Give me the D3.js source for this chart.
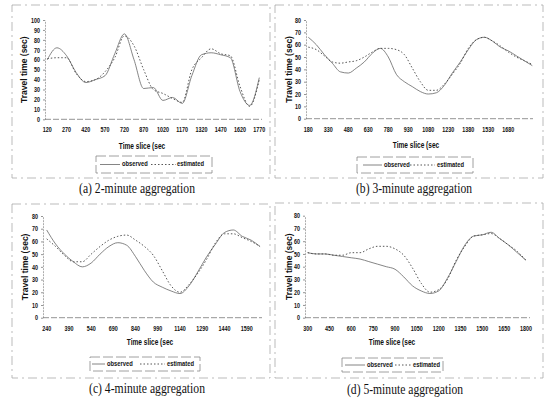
<!DOCTYPE html>
<html>
<head>
<meta charset="utf-8">
<script src="https://cdn.jsdelivr.net/npm/d3@7"></script>
<style>
    body { margin: 0; background: #fff; }
    svg text { font-family: "Liberation Sans", Arial, sans-serif; fill: #111; }
    svg text.caption { font-family: "Liberation Serif", "Times New Roman", serif; }
</style>
</head>
<body>
<svg id="fig" width="546" height="399"></svg>
<script>
// (a) 2-minute aggregation
const timesA = [120, 195, 270, 345, 420, 495, 570, 645, 720, 795, 870, 945, 1020, 1095, 1170, 1245, 1320, 1395, 1470, 1545, 1620, 1695, 1770];
const observedA = [60, 72, 64, 47, 37, 40, 44, 66, 86, 60, 31, 32, 19, 22, 16, 44, 65, 67, 65, 62, 28, 14, 42];
const estimatedA = [61, 62, 62, 46, 38, 40, 48, 62, 84, 74, 50, 30, 26, 21, 17, 50, 62, 71, 66, 64, 33, 13, 40];
const ticksA = [120, 270, 420, 570, 720, 870, 1020, 1170, 1320, 1470, 1620, 1770];

// (b) 3-minute aggregation
const timesB = [180, 240, 300, 360, 420, 480, 540, 600, 660, 720, 780, 840, 900, 960, 1020, 1080, 1140, 1200, 1260, 1320, 1380, 1440, 1500, 1560, 1620, 1680, 1740, 1800, 1860];
const observedB = [66, 60, 52, 45, 38, 37, 41, 46, 53, 57, 50, 36, 30, 26, 22, 20, 21, 27, 37, 46, 56, 64, 66, 63, 58, 55, 51, 47, 43];
const estimatedB = [58, 56, 51, 46, 45, 46, 47, 50, 54, 57, 57, 56, 52, 41, 30, 23, 23, 28, 36, 45, 57, 64, 66, 63, 59, 54, 50, 47, 44];
const ticksB = [180, 330, 480, 630, 780, 930, 1080, 1230, 1380, 1530, 1680];

// (c) 4-minute aggregation
const timesC = [240, 300, 360, 420, 480, 540, 600, 660, 720, 780, 840, 900, 960, 1020, 1080, 1140, 1200, 1260, 1320, 1380, 1440, 1500, 1560, 1620, 1680];
const observedC = [69, 58, 50, 44, 40, 43, 50, 56, 59, 57, 48, 37, 28, 24, 21, 19, 25, 36, 48, 58, 67, 69, 64, 61, 56];
const estimatedC = [62, 56, 49, 44, 44, 50, 56, 61, 64, 65, 61, 56, 49, 37, 25, 20, 26, 35, 46, 59, 66, 66, 63, 60, 56];
const ticksC = [240, 390, 540, 690, 840, 990, 1140, 1290, 1440, 1590];

// (d) 5-minute aggregation
const timesD = [300, 360, 420, 480, 540, 600, 660, 720, 780, 840, 900, 960, 1020, 1080, 1140, 1200, 1260, 1320, 1380, 1440, 1500, 1560, 1620, 1680, 1740, 1800];
const observedD = [51, 50, 50, 49, 48, 47, 46, 44, 42, 40, 38, 32, 25, 21, 19, 21, 31, 44, 57, 64, 65, 67, 62, 57, 51, 45];
const estimatedD = [51, 50, 50, 49, 49, 51, 51, 54, 56, 56, 54, 49, 39, 27, 20, 22, 30, 45, 56, 64, 65, 66, 62, 57, 52, 45];
const ticksD = [300, 450, 600, 750, 900, 1050, 1200, 1350, 1500, 1650, 1800];

class AggChart {
    constructor(svg, config, times, observed, estimated, ticks) {
        this.svg = svg;
        this.config = config;
        this.times = times;
        this.observed = observed;
        this.estimated = estimated;
        this.ticks = ticks;
        this.initVis();
    }

    initVis() {
        let vis = this;
        let c = vis.config;

        vis.g = vis.svg.append("g");

        // scanned chart-area border
        vis.g.append("rect")
            .attr("x", c.frame[0]).attr("y", c.frame[1])
            .attr("width", c.frame[2]).attr("height", c.frame[3])
            .attr("fill", "none")
            .attr("stroke", "#aaa")
            .attr("stroke-width", 0.8)
            .attr("stroke-dasharray", "9,4,2,4");

        vis.x = d3.scaleLinear()
            .domain([vis.ticks[0], vis.ticks[vis.ticks.length - 1]])
            .range(c.xRange);
        vis.y = d3.scaleLinear()
            .domain([0, c.yMax])
            .range(c.yRange);

        // y axis
        vis.yAxis = d3.axisLeft(vis.y)
            .tickValues(d3.range(0, c.yMax + 1, 10))
            .tickSize(2)
            .tickSizeOuter(0)
            .tickPadding(3);
        let yg = vis.g.append("g")
            .attr("transform", `translate(${c.axisX},0)`)
            .call(vis.yAxis);
        yg.select(".domain").attr("stroke", "#888").attr("stroke-width", 0.7).attr("stroke-dasharray", "2,1");
        yg.selectAll(".tick line").attr("stroke", "#666").attr("stroke-width", 0.7);
        yg.selectAll("text")
            .attr("font-family", null)
            .attr("font-size", 7)
            .attr("font-weight", "bold")
            .attr("class", "sq");

        // x axis line
        vis.g.append("line")
            .attr("x1", c.axisX).attr("x2", c.xEnd)
            .attr("y1", vis.y(0)).attr("y2", vis.y(0))
            .attr("stroke", "#777")
            .attr("stroke-width", 0.8)
            .attr("stroke-dasharray", "6,2");

        vis.g.selectAll(".xlab")
            .data(vis.ticks)
            .enter()
            .append("text")
            .attr("class", "xlab sq")
            .attr("x", d => vis.x(d))
            .attr("y", vis.y(0) + 11)
            .attr("text-anchor", "middle")
            .attr("dominant-baseline", "middle")
            .attr("font-size", 7)
            .attr("font-weight", "bold")
            .text(d => d);

        // axis titles
        vis.g.append("text")
            .attr("transform", `translate(${c.yTitleX},${(c.yRange[0] + c.yRange[1]) / 2}) rotate(-90)`)
            .attr("text-anchor", "middle")
            .attr("dominant-baseline", "middle")
            .attr("font-size", 8.5)
            .attr("font-weight", "bold")
            .text("Travel time (sec)");
        vis.g.append("text")
            .attr("class", "sq")
            .attr("x", c.xTitle[0])
            .attr("y", c.xTitle[1])
            .attr("text-anchor", "middle")
            .attr("dominant-baseline", "middle")
            .attr("font-size", 8.5)
            .attr("font-weight", "bold")
            .text("Time slice (sec");

        // lines
        vis.line = d3.line()
            .x((d, i) => vis.x(vis.times[i]))
            .y(d => vis.y(d))
            .curve(d3.curveMonotoneX);

        vis.g.append("path")
            .datum(vis.observed)
            .attr("fill", "none")
            .attr("stroke", "#666")
            .attr("stroke-width", 0.8)
            .attr("d", vis.line);
        vis.g.append("path")
            .datum(vis.estimated)
            .attr("fill", "none")
            .attr("stroke", "#444")
            .attr("stroke-width", 0.9)
            .attr("stroke-dasharray", "1.5,2")
            .attr("d", vis.line);

        // legend
        let L = c.legend;
        let lg = vis.g.append("g").attr("transform", `translate(${L.x},${L.y})`);
        lg.append("rect")
            .attr("width", L.w).attr("height", L.h)
            .attr("fill", "none")
            .attr("stroke", "#888")
            .attr("stroke-width", 0.8)
            .attr("stroke-dasharray", "10,3");
        lg.append("line")
            .attr("x1", L.obsLine[0]).attr("x2", L.obsLine[1])
            .attr("y1", L.h / 2).attr("y2", L.h / 2)
            .attr("stroke", "#666").attr("stroke-width", 0.8);
        lg.append("line")
            .attr("x1", L.estLine[0]).attr("x2", L.estLine[1])
            .attr("y1", L.h / 2).attr("y2", L.h / 2)
            .attr("stroke", "#444").attr("stroke-width", 0.9)
            .attr("stroke-dasharray", "1.5,2");
        lg.append("text")
            .attr("class", "sq")
            .attr("x", L.obsText).attr("y", L.h / 2)
            .attr("dominant-baseline", "middle")
            .attr("font-size", 7.5).attr("font-weight", "bold")
            .text("observed");
        lg.append("text")
            .attr("class", "sq")
            .attr("x", L.estText).attr("y", L.h / 2)
            .attr("dominant-baseline", "middle")
            .attr("font-size", 7.5).attr("font-weight", "bold")
            .text("estimated");

        // caption
        vis.g.append("text")
            .attr("class", "caption")
            .attr("x", c.caption[0])
            .attr("y", c.caption[1])
            .attr("text-anchor", "middle")
            .attr("font-size", 15)
            .attr("textLength", 116)
            .attr("lengthAdjust", "spacingAndGlyphs")
            .text(c.label);
    }
}

const svg = d3.select("#fig");

new AggChart(svg, {
    label: "(a) 2-minute aggregation",
    xRange: [47.3, 259.3], yMax: 100, yRange: [119.3, 20],
    axisX: 45, xEnd: 262, yTitleX: 25, xTitle: [142, 146.5],
    legend: { x: 96, y: 156, w: 116, h: 17, obsLine: [4, 24], obsText: 26, estLine: [55, 80], estText: 81 },
    caption: [137, 193], frame: [12, 5, 258, 173]
}, timesA, observedA, estimatedA, ticksA);

new AggChart(svg, {
    label: "(b) 3-minute aggregation",
    xRange: [308.3, 508.3], yMax: 80, yRange: [118.7, 20],
    axisX: 306, xEnd: 533, yTitleX: 290, xTitle: [416, 146],
    legend: { x: 357, y: 157, w: 116, h: 16, obsLine: [6, 25], obsText: 27, estLine: [53, 78], estText: 80 },
    caption: [414, 193], frame: [275, 5, 268, 173]
}, timesB, observedB, estimatedB, ticksB);

new AggChart(svg, {
    label: "(c) 4-minute aggregation",
    xRange: [46.7, 246.7], yMax: 80, yRange: [317.7, 216],
    axisX: 43, xEnd: 262, yTitleX: 26, xTitle: [150, 343],
    legend: { x: 90, y: 357, w: 110, h: 14, obsLine: [2, 15], obsText: 17, estLine: [50, 75], estText: 77 },
    caption: [147, 393], frame: [12, 204, 258, 174]
}, timesC, observedC, estimatedC, ticksC);

new AggChart(svg, {
    label: "(d) 5-minute aggregation",
    xRange: [307.7, 526], yMax: 80, yRange: [317.7, 215.7],
    axisX: 305, xEnd: 530, yTitleX: 290, xTitle: [392, 343],
    legend: { x: 342, y: 358, w: 101, h: 14, obsLine: [3, 23], obsText: 25, estLine: [53, 69], estText: 71 },
    caption: [405, 394], frame: [275, 203, 268, 175]
}, timesD, observedD, estimatedD, ticksD);

// the scanned figure is squeezed horizontally, so squeeze horizontal labels too
d3.selectAll("text.sq").each(function () {
    this.setAttribute("textLength", this.getComputedTextLength() * 0.77);
    this.setAttribute("lengthAdjust", "spacingAndGlyphs");
});
</script>
</body>
</html>
